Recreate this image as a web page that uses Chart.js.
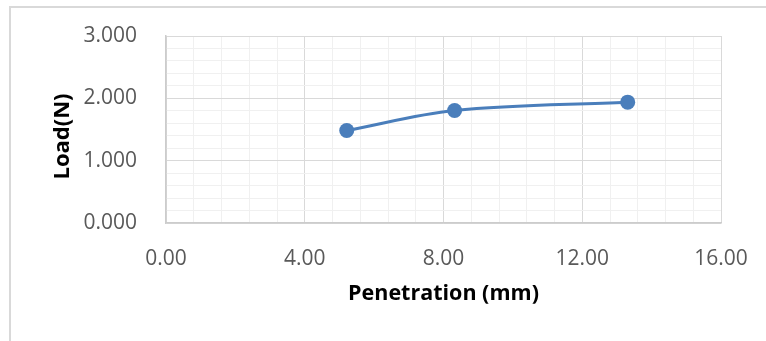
<!DOCTYPE html>
<html>
<head>
<meta charset="utf-8">
<script src="https://cdn.jsdelivr.net/npm/chart.js@4/dist/chart.umd.min.js"></script>
<style>
  html, body { margin: 0; padding: 0; background: #fff; overflow: hidden; }
  #wrap { position: relative; width: 766px; height: 341px; overflow: hidden; }
  #frame { position: absolute; left: 9px; top: 6px; width: 800px; height: 400px;
           border-left: 2px solid #d9d9d9; border-top: 2px solid #d9d9d9; }
  canvas { position: absolute; left: 0; top: 0; }
</style>
</head>
<body>
<div id="wrap">
  <div id="frame"></div>
  <canvas id="c" width="766" height="341"></canvas>
</div>
<script>
// Penetration test results
const penetration = [5.21, 8.32, 13.31];   // mm
const load = [1.484, 1.805, 1.939];        // N

// Axis settings
const xRange = [0, 16];
const xMajorStep = 4;
const xMinorStep = 0.8;
const yRange = [0, 3];
const yMajorStep = 1;
const yMinorStep = 0.2;
const xTitle = 'Penetration (mm)';
const yTitle = 'Load(N)';

const FONT = '"Open Sans", "Liberation Sans", sans-serif';
const LINE_BLUE = '#4a7ebb';

function isMajor(v, step) {
  const r = v / step;
  return Math.abs(r - Math.round(r)) < 1e-6;
}

const points = penetration.map((x, i) => ({ x: x, y: load[i] }));

// Rotated y-axis title, drawn beside the value labels
const yTitlePlugin = {
  id: 'yTitle',
  afterDraw(chart) {
    const { ctx, chartArea } = chart;
    const cx = chartArea.left - 103;
    const cy = (chartArea.top + chartArea.bottom) / 2 + 7;
    ctx.save();
    ctx.translate(cx, cy);
    ctx.rotate(-Math.PI / 2);
    ctx.font = 'bold 22px ' + FONT;
    ctx.fillStyle = '#000';
    ctx.textAlign = 'center';
    ctx.textBaseline = 'middle';
    ctx.fillText(yTitle, 0, 0);
    ctx.restore();
  }
};

new Chart(document.getElementById('c'), {
  type: 'line',
  data: {
    datasets: [{
      data: points,
      borderColor: LINE_BLUE,
      backgroundColor: LINE_BLUE,
      borderWidth: 3,
      tension: 0.35,
      pointRadius: 7.5,
      pointBorderWidth: 0,
      pointBackgroundColor: LINE_BLUE,
      fill: false
    }]
  },
  options: {
    responsive: false,
    animation: false,
    layout: { padding: { left: 0, right: 45, top: 36, bottom: 34 } },
    plugins: { legend: { display: false }, tooltip: { enabled: false } },
    scales: {
      x: {
        type: 'linear',
        min: xRange[0], max: xRange[1],
        afterFit(scale) {
          scale.height = 84;
          scale.paddingLeft = 0;
          scale.paddingRight = 0;
        },
        ticks: {
          stepSize: xMinorStep,
          autoSkip: false,
          maxRotation: 0,
          padding: 23,
          color: '#595959',
          font: { family: FONT, size: 21 },
          callback: v => isMajor(v, xMajorStep) ? Number(v).toFixed(2) : ''
        },
        grid: {
          drawTicks: false,
          lineWidth: 1,
          color: c => isMajor(c.tick.value, xMajorStep) ? '#d9d9d9' : '#f0f0f0'
        },
        border: { color: '#cccccc', width: 1.5 },
        title: {
          display: true,
          text: xTitle,
          color: '#000',
          font: { family: FONT, size: 21.5, weight: 'bold' },
          padding: 0
        }
      },
      y: {
        type: 'linear',
        min: yRange[0], max: yRange[1],
        afterFit(scale) {
          scale.width = 166;
          scale.paddingTop = 0;
          scale.paddingBottom = 0;
        },
        ticks: {
          stepSize: yMinorStep,
          autoSkip: false,
          padding: 29,
          color: '#595959',
          font: { family: FONT, size: 21 },
          callback: v => isMajor(v, yMajorStep) ? Number(v).toFixed(3) : ''
        },
        grid: {
          drawTicks: false,
          lineWidth: 1,
          color: c => isMajor(c.tick.value, yMajorStep) ? '#d9d9d9' : '#f0f0f0'
        },
        border: { color: '#cccccc', width: 1.5 }
      }
    }
  },
  plugins: [yTitlePlugin]
});
</script>
</body>
</html>
